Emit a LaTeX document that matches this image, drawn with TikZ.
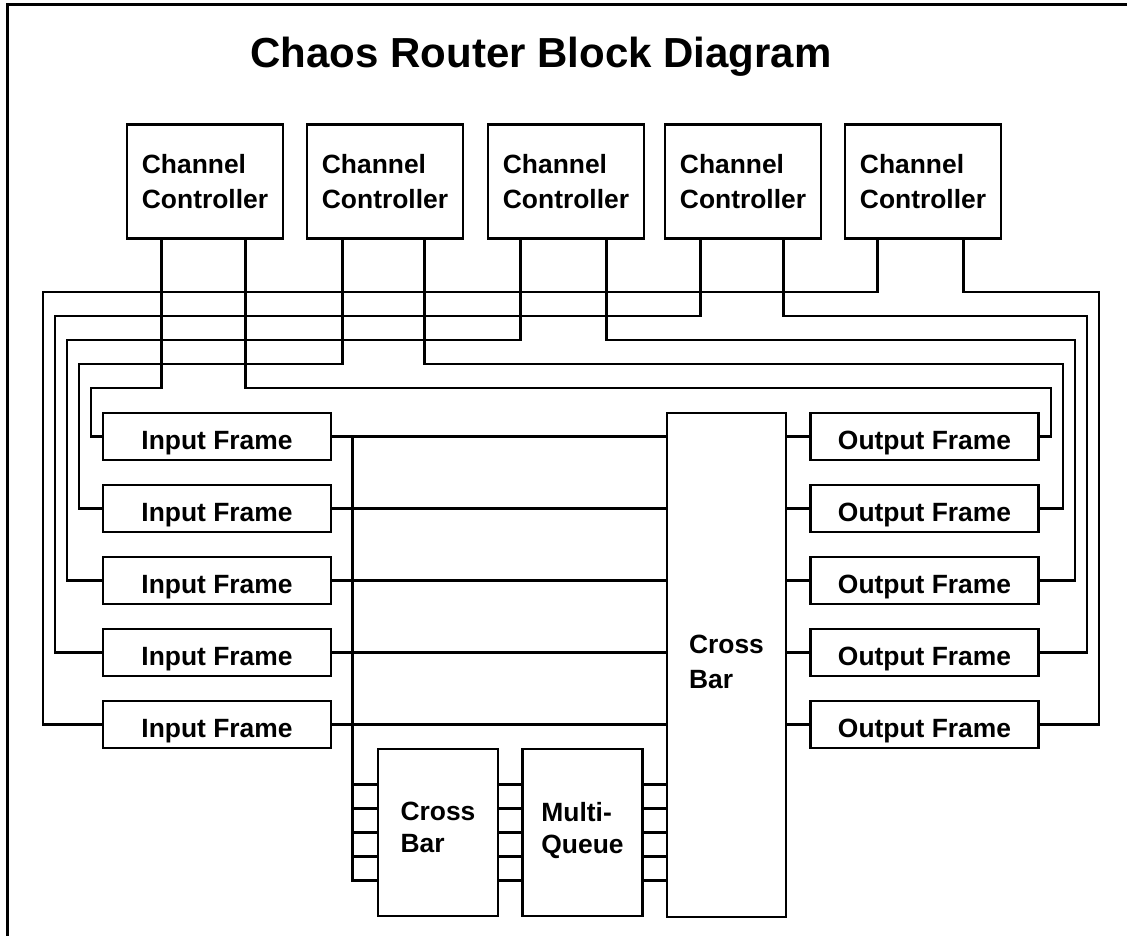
\documentclass[tikz,border=0pt]{standalone}
\usepackage{fontspec}
\setmainfont{Liberation Sans}
\usetikzlibrary{calc}
\begin{document}
\begin{tikzpicture}[x=1pt,y=-1pt,
  wire/.style={line width=2.8pt},
  blk/.style={draw, line width=2.5pt, inner sep=0pt, align=left,
    font=\fontsize{26.4}{34.5}\selectfont\bfseries},
  ctrl/.style={blk, minimum width=156pt, minimum height=114pt},
  frm/.style={blk, minimum width=228pt, minimum height=47pt,
    text height=26.4pt, text depth=0pt},
  tallbox/.style={blk, minimum width=120pt, minimum height=167pt,
    font=\fontsize{26.4}{32}\selectfont\bfseries, text depth=10pt}
]
\useasboundingbox (0,0) rectangle (1127,936);

% page frame (top and left edges only)
\draw[line width=3pt] (1127,4.5) -- (7,4.5) -- (7,936);

% title
\node[font=\fontsize{42}{50}\selectfont\bfseries] (title) at (541,57) {Chaos Router Block Diagram};

% channel controllers
\node[ctrl] (cc1) at (205,181.5) {Channel\\Controller};
\node[ctrl] (cc2) at (385,181.5) {Channel\\Controller};
\node[ctrl] (cc3) at (566,181.5) {Channel\\Controller};
\node[ctrl] (cc4) at (743,181.5) {Channel\\Controller};
\node[ctrl] (cc5) at (923,181.5) {Channel\\Controller};

% input and output frames
\foreach \i/\y in {1/436.5,2/508.5,3/580.5,4/652.5,5/724.5}{
  \node[frm] (if\i) at (217,\y) {Input Frame};
  \node[frm] (of\i) at (924.5,\y) {Output Frame};
}

% central cross bar, secondary cross bar and multi-queue
\node[blk, minimum width=119pt, minimum height=504pt, text depth=6pt] (cb) at (726.5,665) {Cross\\Bar};
\node[tallbox] (scb) at (438,832.5) {Cross\\Bar};
\node[tallbox] (mq) at (582.5,832.5) {Multi-\\Queue};

% controller leads
\coordinate (c1a) at ($(cc1.south west)+(36,0)$);
\coordinate (c1b) at ($(cc1.south west)+(120,0)$);
\coordinate (c2a) at ($(cc2.south west)+(37,0)$);
\coordinate (c2b) at ($(cc2.south west)+(119,0)$);
\coordinate (c3a) at ($(cc3.south west)+(34,0)$);
\coordinate (c3b) at ($(cc3.south west)+(120,0)$);
\coordinate (c4a) at ($(cc4.south west)+(37,0)$);
\coordinate (c4b) at ($(cc4.south west)+(120,0)$);
\coordinate (c5a) at ($(cc5.south west)+(34,0)$);
\coordinate (c5b) at ($(cc5.south west)+(120,0)$);

% controller to input frame wiring (left loops)
\draw[wire] (c5a) |- (43,292) |- (if5.west);
\draw[wire] (c4a) |- (55,316) |- (if4.west);
\draw[wire] (c3a) |- (67,340) |- (if3.west);
\draw[wire] (c2a) |- (79,364) |- (if2.west);
\draw[wire] (c1a) |- (91,388) |- (if1.west);

% controller to output frame wiring (right loops)
\draw[wire] (c5b) |- (1099,292) |- (of5.east);
\draw[wire] (c4b) |- (1087,316) |- (of4.east);
\draw[wire] (c3b) |- (1075,340) |- (of3.east);
\draw[wire] (c2b) |- (1063,364) |- (of2.east);
\draw[wire] (c1b) |- (1051,388) |- (of1.east);

% frames to central cross bar
\foreach \i in {1,...,5}{
  \draw[wire] (if\i.east) -- (if\i.east -| cb.west);
  \draw[wire] (cb.east |- of\i.west) -- (of\i.west);
}

% bus from the input lines down to the secondary cross bar
\coordinate (bus) at ($(scb.west |- if1.east)+(-24,0)$);
\draw[wire] (bus) |- ($(scb.west)+(0,48)$);
\foreach \d in {-48,-24,0,24,48}{
  \draw[wire] ($(scb.west)+(-24,\d)$) -- ($(scb.west)+(0,\d)$);
  \draw[wire] ($(scb.east)+(0,\d)$) -- ($(mq.west)+(0,\d)$);
  \path ($(mq.east)+(0,\d)$) coordinate (t);
  \draw[wire] (t) -- (t -| cb.west);
}
\end{tikzpicture}
\end{document}
